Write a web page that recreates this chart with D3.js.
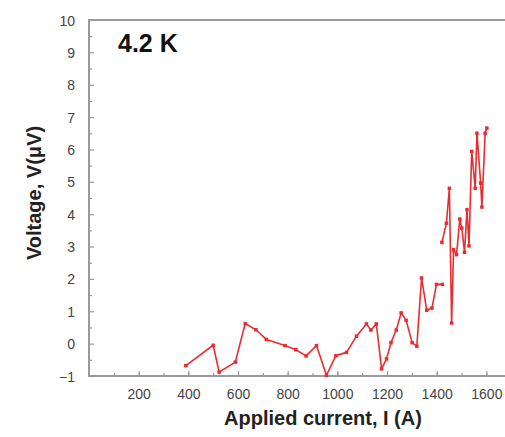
<!DOCTYPE html>
<html>
<head>
<meta charset="utf-8">
<script src="https://cdn.jsdelivr.net/npm/d3@7"></script>
<style>
  body { margin: 0; background: #fff; }
  svg text { font-family: "Liberation Sans", Arial, sans-serif; }
  .tick-label { font-size: 14px; fill: #444; }
  .axis-title { font-size: 20px; font-weight: bold; fill: #222; }
</style>
</head>
<body>
<svg id="chart"></svg>
<script>
// applied current (A) and measured voltage (uV); null marks the gap in the trace
const current = [390, 500, 524, 589, 629, 672, 714, 789, 833, 874, 916, 956, 994, 1037, 1077,
  1117, 1135, 1157, 1178, 1198, 1216, 1237, 1257, 1277, 1301, 1320, 1339, 1360, 1381, 1399, 1423,
  1421, 1421, 1439, 1451, 1460, 1468, 1480, 1493, 1501, 1512, 1522, 1530, 1541, 1555, 1562, 1577,
  1582, 1595, 1602];
const voltage = [-0.68, -0.05, -0.88, -0.57, 0.62, 0.43, 0.13, -0.06, -0.19, -0.38, -0.06, -0.98, -0.37, -0.27, 0.23,
  0.61, 0.42, 0.61, -0.78, -0.47, 0.03, 0.42, 0.95, 0.72, 0.03, -0.08, 2.03, 1.03, 1.1, 1.83, 1.83,
  null, 3.13, 3.72, 4.8, 0.64, 2.9, 2.75, 3.85, 3.57, 2.82, 4.14, 3.02, 5.94, 4.8, 6.5, 4.96,
  4.22, 6.5, 6.66];

const xTicks = [200, 400, 600, 800, 1000, 1200, 1400, 1600];
const yTicks = [-1, 0, 1, 2, 3, 4, 5, 6, 7, 8, 9, 10];

const config = {
  width: 505,
  height: 437,
  margin: {top: 20, right: 0, bottom: 61, left: 89}
};

const data = current.map((c, i) => ({ i: c, v: voltage[i] }));

const innerW = config.width - config.margin.left - config.margin.right;
const innerH = config.height - config.margin.top - config.margin.bottom;

const svg = d3.select('#chart')
    .attr('width', config.width)
    .attr('height', config.height);

const chart = svg.append('g')
    .attr('transform', `translate(${config.margin.left},${config.margin.top})`);

const xScale = d3.scaleLinear().domain([0, 1675]).range([0, innerW]);
const yScale = d3.scaleLinear().domain([-1, 10]).range([innerH, 0]);

const axisColor = '#9a9a9a';

// minor ticks first, then majors
const xMinor = d3.range(100, 1675, 100);
const yMinor = d3.range(-0.5, 10, 1);

const xAxisG = chart.append('g')
    .attr('transform', `translate(0,${innerH})`)
    .call(d3.axisBottom(xScale).tickValues(xMinor).tickSize(-3).tickFormat(''))
    .call(g => g.append('g')
        .call(d3.axisBottom(xScale).tickValues(xTicks).tickSize(-5).tickPadding(13).tickFormat(d3.format('d'))));

const yAxisG = chart.append('g')
    .call(d3.axisLeft(yScale).tickValues(yMinor).tickSize(-3).tickFormat(''))
    .call(g => g.append('g')
        .call(d3.axisLeft(yScale).tickValues(yTicks).tickSize(-5).tickPadding(14).tickFormat(d3.format('d'))));

[xAxisG, yAxisG].forEach(g => {
  g.selectAll('.domain').remove();
  g.selectAll('line').attr('stroke', axisColor).attr('stroke-width', 1.2);
  g.selectAll('text')
      .attr('class', 'tick-label')
      .attr('font-family', null)
      .attr('font-size', null);
});
yAxisG.selectAll('text').attr('dy', '0.36em');

// frame: left axis, bottom axis, top border
chart.append('path')
    .attr('d', `M${innerW},0H0V${innerH}H${innerW}`)
    .attr('fill', 'none')
    .attr('stroke', axisColor)
    .attr('stroke-width', 2);

const line = d3.line()
    .defined(d => d.v !== null)
    .x(d => xScale(d.i))
    .y(d => yScale(d.v));

chart.append('path')
    .datum(data)
    .attr('d', line)
    .attr('fill', 'none')
    .attr('stroke', '#ea2c30')
    .attr('stroke-width', 1.6)
    .attr('stroke-linejoin', 'round');

chart.selectAll('.point')
    .data(data.filter(d => d.v !== null))
  .join('rect')
    .attr('class', 'point')
    .attr('x', d => xScale(d.i) - 1.75)
    .attr('y', d => yScale(d.v) - 1.75)
    .attr('width', 3.5)
    .attr('height', 3.5)
    .attr('fill', '#ea2c30');

// titles
svg.append('text')
    .attr('class', 'axis-title')
    .attr('x', 323)
    .attr('y', 425)
    .attr('text-anchor', 'middle')
    .text('Applied current, I (A)');

svg.append('text')
    .attr('class', 'axis-title')
    .attr('transform', 'translate(41,193) rotate(-90)')
    .attr('text-anchor', 'middle')
    .text('Voltage, V(\u03bcV)');

svg.append('text')
    .attr('x', 118)
    .attr('y', 52)
    .attr('font-size', 25)
    .attr('font-weight', 'bold')
    .attr('fill', '#111')
    .text('4.2 K');
</script>
</body>
</html>
